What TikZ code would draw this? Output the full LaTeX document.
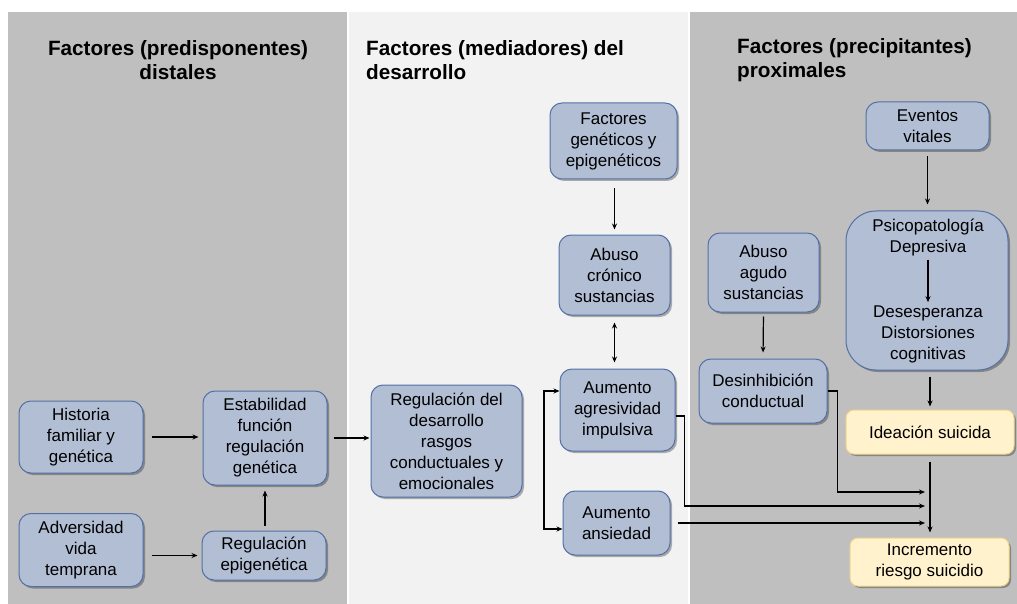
\documentclass[tikz,border=0pt]{standalone}
\usepackage{fontspec}
\setmainfont{Liberation Sans}
\usetikzlibrary{arrows.meta,shadows}
\definecolor{pdark}{RGB}{191,191,191}
\definecolor{plight}{RGB}{242,242,242}
\definecolor{bfill}{RGB}{178,190,212}
\definecolor{bdraw}{RGB}{84,112,166}
\definecolor{yfill}{RGB}{255,242,204}
\definecolor{ydraw}{RGB}{242,214,140}
\begin{document}
\begin{tikzpicture}[x=1pt,y=-1pt,
 box/.style={draw=bdraw, fill=bfill, line width=1pt, rounded corners=12pt, align=center, inner sep=0pt,
   font=\fontsize{17}{21}\selectfont,
   drop shadow={shadow xshift=2pt, shadow yshift=-2pt, fill=black, opacity=0.3}},
 ybox/.style={box, draw=ydraw, fill=yfill, rounded corners=8pt},
 ptext/.style={font=\fontsize{17}{21}\selectfont, align=center, inner sep=1pt},
 arr/.style={-{Stealth[length=6pt,width=5pt]}, line width=1.2pt},
 darr/.style={{Stealth[length=6pt,width=5pt]}-{Stealth[length=6pt,width=5pt]}, line width=1.2pt},
 title/.style={font=\fontsize{20.7}{24}\selectfont\bfseries, inner sep=0pt}
]
\useasboundingbox (0,0) rectangle (1017,604);
\fill[white] (0,0) rectangle (1017,604);
\fill[pdark] (8,12) rectangle (347,604);
\fill[plight] (349,12) rectangle (688,604);
\fill[pdark] (690,12) rectangle (1017,604);

% titles
\node[title, align=center] (t1) at (178,60) {Factores (predisponentes)\\distales};
\node[title, align=left, anchor=west] (t2) at (366,60) {Factores (mediadores) del\\desarrollo};
\node[title, align=left, anchor=west] (t3) at (737,60) {Factores (precipitantes)\\proximales};

% left panel
\node[box, minimum width=124, minimum height=72] (hist) at (81,437) {Historia\\familiar y\\genética};
\node[box, minimum width=124, minimum height=73] (adv) at (81,550) {Adversidad\\vida\\temprana};
\node[box, minimum width=124, minimum height=94] (est) at (265,438) {Estabilidad\\función\\regulación\\genética};
\node[box, minimum width=124, minimum height=49] (epi) at (264,555.5) {Regulación\\epigenética};

% middle panel
\node[box, minimum width=151, minimum height=112] (reg) at (446.5,441) {Regulación del\\desarrollo\\rasgos\\conductuales y\\emocionales};
\node[box, minimum width=127, minimum height=76] (fge) at (613.5,141) {Factores\\genéticos y\\epigenéticos};
\node[box, minimum width=111, minimum height=80] (acr) at (614.5,275) {Abuso\\crónico\\sustancias};
\node[box, minimum width=115, minimum height=82] (agr) at (617.5,410) {Aumento\\agresividad\\impulsiva};
\node[box, minimum width=107, minimum height=64] (ans) at (616.5,523) {Aumento\\ansiedad};

% right panel
\node[box, minimum width=111, minimum height=79] (aag) at (763.5,272.5) {Abuso\\agudo\\sustancias};
\node[box, minimum width=128, minimum height=64] (des) at (763,391) {Desinhibición\\conductual};
\node[box, minimum width=123, minimum height=48] (eve) at (927.5,126) {Eventos\\vitales};
\node[box, rounded corners=30pt, minimum width=162, minimum height=159] (psi) at (927,290.5) {};
\node[ptext] (psi1) at (928,238) {Psicopatología\\Depresiva};
\node[ptext] (psi2) at (928,334) {Desesperanza\\Distorsiones\\cognitivas};
\node[ybox, minimum width=168, minimum height=44] (ide) at (930,432) {Ideación suicida};
\node[ybox, minimum width=159, minimum height=48] (inc) at (929.5,562) {Incremento\\riesgo suicidio};

% connectors
\draw[arr, shorten <=8pt, shorten >=4pt] (hist.east) -- (hist.east -| est.west);
\draw[arr, shorten <=8pt, shorten >=4pt] (epi.west -| adv.east) -- (epi.west);
\draw[arr, shorten <=5pt, shorten >=5pt] (est.south |- epi.north) -- (est.south);
\draw[arr, shorten <=6pt, shorten >=1pt] (est.east) -- (est.east -| reg.west);

\coordinate (br1) at (544,391);
\coordinate (br2) at (544,529);
\draw[darr] (agr.west |- br1) -- (br1) -- (br2) -- (ans.west |- br2);

\draw[arr, shorten <=9pt, shorten >=5pt] (acr.north |- fge.south) -- (acr.north);
\draw[darr, shorten <=7pt, shorten >=6pt] (acr.south) -- (acr.south |- agr.north);

\coordinate (j1) at (925,492);
\coordinate (j2) at (925,506);
\coordinate (j3) at (925,523);
\draw[arr] ([yshift=-6pt]agr.east) -- ++(9,0) |- (j2);
\draw[arr, shorten <=7pt] (ans.east |- j3) -- (j3);
\draw[arr] (des.east) -- ++(10,0) |- (j1);

\draw[arr, shorten <=4pt, shorten >=6pt] (aag.south) -- (des.north);
\draw[arr, shorten <=6pt, shorten >=6pt] (eve.south) -- (eve.south |- psi.north);
\draw[arr, shorten <=2pt, shorten >=2pt] (psi1.south) -- (psi2.north);
\draw[arr, shorten <=6pt, shorten >=3pt] (ide.north |- psi.south) -- (ide.north);
\draw[arr, shorten <=7pt, shorten >=5pt] (ide.south) -- (ide.south |- inc.north);
\end{tikzpicture}
\end{document}
